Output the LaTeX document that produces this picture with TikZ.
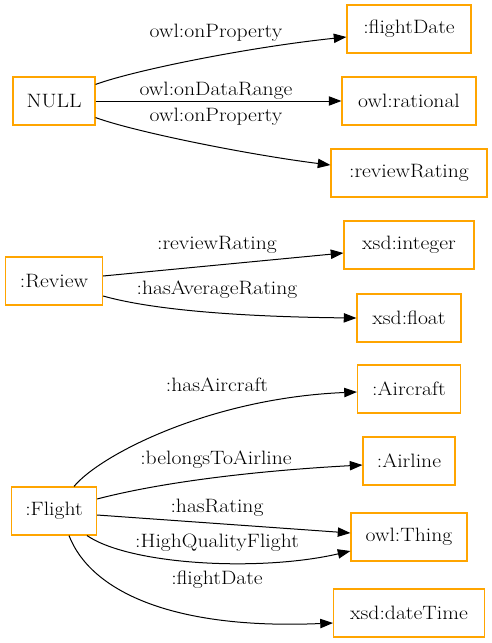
\documentclass[tikz,border=0pt]{standalone}
\usepackage{fontspec}
\setmainfont{Latin Modern Roman}[FakeStretch=1.12]
\usetikzlibrary{arrows.meta,calc}
\definecolor{boxorange}{RGB}{255,165,0}
\begin{document}
\begin{tikzpicture}[x=0.75pt,y=-0.75pt,
  bx/.style={draw=boxorange, line width=0.85pt, minimum height=36pt, inner sep=0pt, font=\fontsize{14.5pt}{16pt}\selectfont},
  lbl/.style={inner sep=0pt, font=\fontsize{14.5pt}{16pt}\selectfont},
  edge/.style={draw=black, line width=0.75pt, -{Triangle[length=9.5pt,width=7pt]}}]
\useasboundingbox (0,0) rectangle (492,643);
% nodes
\node[bx, minimum width=93pt]    (fd)  at (409,29)  {:flightDate};
\node[bx, minimum width=61.5pt]  (nul) at (54,101)  {NULL};
\node[bx, minimum width=100.5pt] (rat) at (409,101) {owl:rational};
\node[bx, minimum width=117pt]   (rr)  at (409,173) {:reviewRating};
\node[bx, minimum width=72.75pt] (rev) at (54,281)  {:Review};
\node[bx, minimum width=97.5pt]  (int) at (409,245) {xsd:integer};
\node[bx, minimum width=78pt]    (flt) at (409,318) {xsd:float};
\node[bx, minimum width=77.25pt] (acr) at (409,389) {:Aircraft};
\node[bx, minimum width=69pt]    (aln) at (409,461) {:Airline};
\node[bx, minimum width=87pt]    (thg) at (409,537) {owl:Thing};
\node[bx, minimum width=63.75pt] (fli) at (54,511)  {:Flight};
\node[bx, minimum width=113.25pt](dtm) at (409,613) {xsd:dateTime};
% edges
\draw[edge] ($(nul.north east)+(0,8)$) .. controls (135,70) and (250,47) .. ($(fd.west)+(0,8)$);
\draw[edge] (nul.east) -- (rat.west);
\draw[edge] ($(nul.south east)+(0,-8)$) .. controls (135,132) and (250,155) .. ($(rr.west)+(0,-8)$);
\draw[edge] ($(rev.east)+(0,-5)$) -- ($(int.west)+(0,8)$);
\draw[edge] ($(rev.east)+(0,15)$) .. controls (160,312) and (260,317) .. (flt.west);
\draw[edge] ($(fli.north)+(20,0)$) .. controls (100,455) and (210,398) .. ($(acr.west)+(0,3)$);
\draw[edge] ($(fli.east)+(0,-12)$) .. controls (170,480) and (270,470) .. ($(aln.west)+(0,4)$);
\draw[edge] ($(fli.east)+(0,4)$) -- ($(thg.west)+(0,-4)$);
\draw[edge] ($(fli.south)+(33,0)$) .. controls (130,565) and (260,572) .. ($(thg.west)+(0,14)$);
\draw[edge] ($(fli.south)+(15,0)$) .. controls (90,590) and (170,630) .. ($(dtm.west)+(0,10)$);
% labels
\node[lbl] (l1)  at (216,33)  {owl:onProperty};
\node[lbl] (l2)  at (216,91)  {owl:onDataRange};
\node[lbl] (l3)  at (216,117) {owl:onProperty};
\node[lbl] (l4)  at (217,245) {:reviewRating};
\node[lbl] (l5)  at (217,290) {:hasAverageRating};
\node[lbl] (l6)  at (217,385) {:hasAircraft};
\node[lbl] (l7)  at (216,460) {:belongsToAirline};
\node[lbl] (l8)  at (217,508) {:hasRating};
\node[lbl] (l9)  at (217,543) {:HighQualityFlight};
\node[lbl] (l10) at (217,580) {:flightDate};
\end{tikzpicture}
\end{document}
